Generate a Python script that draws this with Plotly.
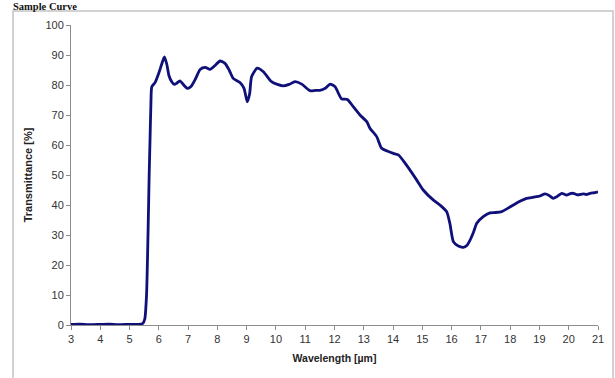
import plotly.graph_objects as go

wavelength = [3.0, 3.3, 3.6, 4.0, 4.3, 4.6, 5.0, 5.3, 5.45, 5.52, 5.58, 5.63, 5.67, 5.70, 5.73,
              5.76, 5.87, 6.0, 6.1, 6.19, 6.27, 6.35, 6.44, 6.53, 6.61, 6.72, 6.85, 6.97,
              7.1, 7.25, 7.41, 7.58, 7.75, 7.92, 8.09, 8.26, 8.4, 8.54, 8.77, 8.91, 9.02,
              9.1, 9.17, 9.36, 9.57, 9.85, 10.05, 10.25, 10.45, 10.65, 10.88, 11.16, 11.35,
              11.5, 11.7, 11.85, 12.02, 12.24, 12.44, 12.64, 12.87, 13.1, 13.21, 13.44,
              13.61, 13.8, 14.01, 14.18, 14.46, 14.81, 15.03, 15.37, 15.6, 15.83, 15.94,
              16.06, 16.23, 16.4, 16.52, 16.63, 16.75, 16.86, 17.08, 17.31, 17.5, 17.71,
              17.9, 18.11, 18.35, 18.56, 18.8, 19.02, 19.19, 19.33, 19.47, 19.6, 19.76,
              19.93, 20.05, 20.16, 20.3, 20.5, 20.6, 20.73, 20.9, 21.0]
transmittance = [0.2, 0.3, 0.1, 0.2, 0.3, 0.1, 0.2, 0.2, 0.5, 2.0, 10.0, 30.0, 50.0, 62.0, 74.0,
                 79.4, 80.8, 84.0, 87.0, 89.4, 87.0, 83.0, 81.1, 80.2, 80.6, 81.4, 80.0, 78.9,
                 79.5, 82.0, 85.2, 85.9, 85.2, 86.5, 88.0, 87.2, 85.0, 82.2, 80.8, 78.9, 74.4,
                 77.0, 82.8, 85.6, 84.4, 81.1, 80.2, 79.7, 80.2, 81.1, 80.3, 78.1, 78.2,
                 78.2, 79.0, 80.3, 79.4, 75.4, 75.2, 72.8, 70.0, 67.8, 65.6, 62.8,
                 58.9, 58.0, 57.2, 56.7, 53.3, 48.3, 45.0, 41.7, 40.0, 37.8, 33.9,
                 27.8, 26.3, 25.9, 26.5, 28.3, 31.0, 33.9, 36.1, 37.4, 37.5, 37.8,
                 38.8, 40.0, 41.3, 42.2, 42.6, 43.0, 43.7, 43.2, 42.2, 42.8, 43.9,
                 43.3, 43.8, 43.9, 43.4, 43.7, 43.5, 43.9, 44.1, 44.4]

x_ticks = list(range(3, 22))
y_ticks = list(range(0, 101, 10))

fig = go.Figure()
fig.add_trace(go.Scatter(x=wavelength, y=transmittance, mode="lines",
                         line=dict(color="#10107a", width=2.8, shape="spline", smoothing=0.6),
                         hoverinfo="skip", cliponaxis=False))

L, R, T, B = 71, 17, 25, 53
W, H = 615, 378
pw, ph = W - L - R, H - T - B
def px(xp): return (xp - L) / pw
def py(yp): return (H - B - yp) / ph

axis_common = dict(showgrid=False, zeroline=False, showline=True, linecolor="#8c8c8c",
                   linewidth=1, ticks="outside", ticklen=4, tickcolor="#8c8c8c", automargin=False,
                   tickfont=dict(family="Liberation Sans, Arial", size=11, color="#333333"))

fig.update_layout(
    width=W, height=H,
    margin=dict(l=L, r=R, t=T, b=B),
    plot_bgcolor="white", paper_bgcolor="white",
    showlegend=False,
    xaxis=dict(range=[3, 21], tickvals=x_ticks, ticktext=[str(v) for v in x_ticks],
               title=dict(text="<b>Wavelength [µm]</b>", standoff=10,
                          font=dict(family="Liberation Sans, Arial", size=10.5, color="#222222")),
               **axis_common),
    yaxis=dict(range=[0, 100], tickvals=y_ticks, ticktext=[str(v) for v in y_ticks],
               title=dict(text="<b>Transmittance [%]</b>", standoff=10,
                          font=dict(family="Liberation Sans, Arial", size=11, color="#222222")),
               **axis_common),
    shapes=[dict(type="rect", xref="paper", yref="paper",
                 x0=px(13), x1=px(613), y0=py(390), y1=py(11),
                 line=dict(color="#c4c4c4", width=1.5), fillcolor="rgba(0,0,0,0)", layer="below")],
    annotations=[dict(text="<b>Sample Curve</b>", xref="paper", yref="paper",
                      x=px(12), y=py(0), xanchor="left", yanchor="top", showarrow=False,
                      borderpad=0,
                      font=dict(family="Liberation Serif, Times New Roman", size=10.5, color="#111111"))],
)

fig.write_html("out.html", config={"displayModeBar": False},
               post_script="document.body.style.margin='0';document.body.style.padding='0';")
